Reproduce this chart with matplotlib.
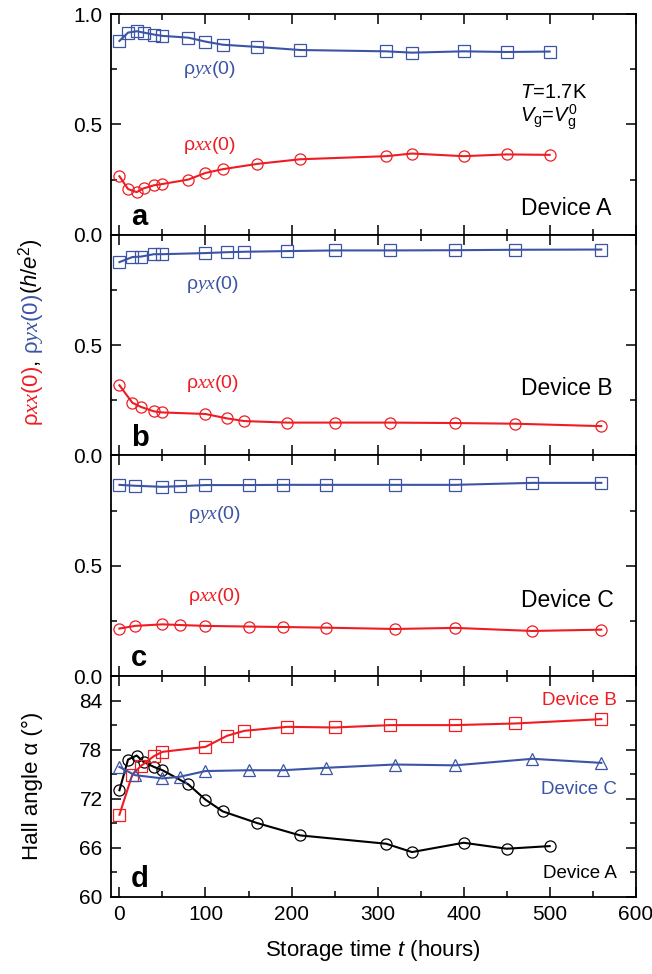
import matplotlib
matplotlib.use('Agg')
import matplotlib.pyplot as plt
from matplotlib.ticker import MultipleLocator, FixedLocator

plt.rcParams['font.family'] = ['Liberation Sans', 'DejaVu Sans']
plt.rcParams['mathtext.fontset'] = 'custom'
plt.rcParams['mathtext.rm'] = 'Liberation Sans'
plt.rcParams['mathtext.it'] = 'Liberation Serif:italic'
plt.rcParams['mathtext.sf'] = 'Liberation Sans:italic'

blue = '#3b54a5'
red = '#ee1d23'

# Device A (panels a, d)
t_a = [0, 10, 20, 28, 40, 50, 80, 100, 120, 160, 210, 310, 340, 400, 450, 500]
rho_yx_a = [0.878, 0.916, 0.922, 0.916, 0.907, 0.901, 0.893, 0.875, 0.861, 0.851,
            0.837, 0.831, 0.825, 0.831, 0.828, 0.830]
rho_xx_a = [0.265, 0.207, 0.193, 0.210, 0.224, 0.230, 0.250, 0.280, 0.297, 0.321,
            0.342, 0.356, 0.368, 0.356, 0.364, 0.362]
hall_a = [73.05, 76.81, 77.30, 76.52, 75.91, 75.50, 73.78, 71.90, 70.47, 69.04,
          67.53, 66.51, 65.49, 66.63, 65.90, 66.22]

# Device B (panels b, d)
t_b = [0, 15, 25, 40, 50, 100, 125, 145, 195, 250, 315, 390, 460, 560]
rho_yx_b = [0.876, 0.899, 0.901, 0.912, 0.912, 0.917, 0.921, 0.923, 0.926, 0.929,
            0.929, 0.930, 0.932, 0.933]
rho_xx_b = [0.318, 0.239, 0.220, 0.200, 0.195, 0.188, 0.168, 0.156, 0.149, 0.149,
            0.149, 0.147, 0.144, 0.133]
hall_b = [70.06, 74.97, 76.03, 77.22, 77.75, 78.36, 79.71, 80.32, 80.81, 80.73,
          81.02, 81.02, 81.22, 81.75]

# Device C (panels c, d)
t_c = [0, 18, 50, 70, 100, 150, 190, 240, 320, 390, 480, 560]
rho_yx_c = [0.867, 0.863, 0.858, 0.861, 0.866, 0.866, 0.867, 0.867, 0.867, 0.867,
            0.876, 0.876]
rho_xx_c = [0.216, 0.228, 0.235, 0.232, 0.228, 0.225, 0.223, 0.220, 0.214, 0.219,
            0.205, 0.211]
hall_c = [75.9, 74.9, 74.5, 74.7, 75.4, 75.5, 75.5, 75.8, 76.2, 76.1, 76.9, 76.4]

fig, axes = plt.subplots(4, 1, figsize=(6.52, 9.74), dpi=100, sharex=True)
fig.subplots_adjust(left=0.170, right=0.975, top=0.9856, bottom=0.0791, hspace=0)

line_kw = dict(lw=1.5, mew=0.9, mfc='none', ms=8)
RYX = r'ρ$\mathit{yx}$(0)'
RXX = r'ρ$\mathit{xx}$(0)'


def style(ax):
    for s in ax.spines.values():
        s.set_linewidth(1.3)
    ax.tick_params(which='both', direction='in', top=True, right=True,
                   width=1.1, labelsize=15, pad=6)
    ax.tick_params(which='major', length=7)
    ax.tick_params(which='minor', length=4)
    ax.xaxis.set_major_locator(MultipleLocator(100))
    ax.xaxis.set_minor_locator(MultipleLocator(50))
    ax.set_xlim(-10, 600)


panels = [
    (t_a, rho_yx_a, rho_xx_a, 'a', 'Device A', (74, 0.75), (74, 0.406)),
    (t_b, rho_yx_b, rho_xx_b, 'b', 'Device B', (77, 0.773), (77, 0.327)),
    (t_c, rho_yx_c, rho_xx_c, 'c', 'Device C', (80, 0.733), (80, 0.362)),
]
dev_y = [0.119, 0.305, 0.344]

for i, (t, ryx, rxx, letter, dev, pyx, pxx) in enumerate(panels):
    ax = axes[i]
    ax.plot(t, ryx, '-s', color=blue, **line_kw)
    ax.plot(t, rxx, '-o', color=red, **line_kw)
    ax.set_ylim(0, 1.0)
    ax.yaxis.set_major_locator(FixedLocator([0, 0.5, 1.0] if i == 0 else [0, 0.5]))
    ax.yaxis.set_minor_locator(FixedLocator([0.25, 0.75, 1.0] if i else [0.25, 0.75]))
    ax.yaxis.set_major_formatter(lambda v, p: f'{v:.1f}')
    style(ax)
    ax.text(pyx[0], pyx[1], RYX, color=blue, fontsize=14, va='center')
    ax.text(pxx[0], pxx[1], RXX, color=red, fontsize=14, va='center')
    ax.text(0.781, dev_y[i], dev, transform=ax.transAxes, fontsize=16.5, va='center')
    ax.text(0.038, 0.045, letter, transform=ax.transAxes, fontsize=21,
            fontweight='bold', va='baseline')

axes[0].text(466, 0.644, r'$\mathsf{T}$=1.7K', fontsize=14.5, va='center')
axes[0].text(466, 0.534, r'$\mathsf{V}_\mathrm{g}$=$\mathsf{V}_\mathrm{g}^{\,0}$',
             fontsize=14.5, va='center')

# panel d: Hall angle
ax = axes[3]
ax.plot(t_a, hall_a, '-o', color='black', **line_kw)
ax.plot(t_b, hall_b, '-s', color=red, **line_kw)
ax.plot(t_c, hall_c, '-^', color=blue, **dict(line_kw, ms=9))
ax.set_ylim(60, 87)
ax.yaxis.set_major_locator(FixedLocator([60, 66, 72, 78, 84]))
ax.yaxis.set_minor_locator(FixedLocator([63, 69, 75, 81, 87]))
style(ax)
ax.text(578, 84.06, 'Device B', color=red, fontsize=13.5, ha='right', va='center')
ax.text(578, 73.2, 'Device C', color=blue, fontsize=13.5, ha='right', va='center')
ax.text(578, 62.9, 'Device A', color='black', fontsize=13.5, ha='right', va='center')
ax.text(0.038, 0.045, 'd', transform=ax.transAxes, fontsize=21,
        fontweight='bold', va='baseline')
ax.set_xlabel(r'Storage time $\mathsf{t}$ (hours)', fontsize=16, labelpad=10)

# y labels
fig.text(0.058, 0.193, 'Hall angle α (°)', rotation=90, rotation_mode='anchor',
         ha='center', va='baseline', fontsize=16)

pieces = [(RXX, red), (', ', 'black'), (RYX, blue),
          (r'($\mathsf{h}$/$\mathsf{e}$$^2$)', 'black')]
fig.canvas.draw()
renderer = fig.canvas.get_renderer()
texts = []
for s, c in pieces:
    tx = fig.text(0.058, 0, s, color=c, rotation=90, rotation_mode='anchor',
                  ha='left', va='baseline', fontsize=16)
    texts.append(tx)
heights = [tx.get_window_extent(renderer).height / fig.bbox.height for tx in texts]
y0 = 0.659 - sum(heights) / 2
for tx, h in zip(texts, heights):
    tx.set_y(y0)
    y0 += h

fig.savefig('out.png', dpi=100)
